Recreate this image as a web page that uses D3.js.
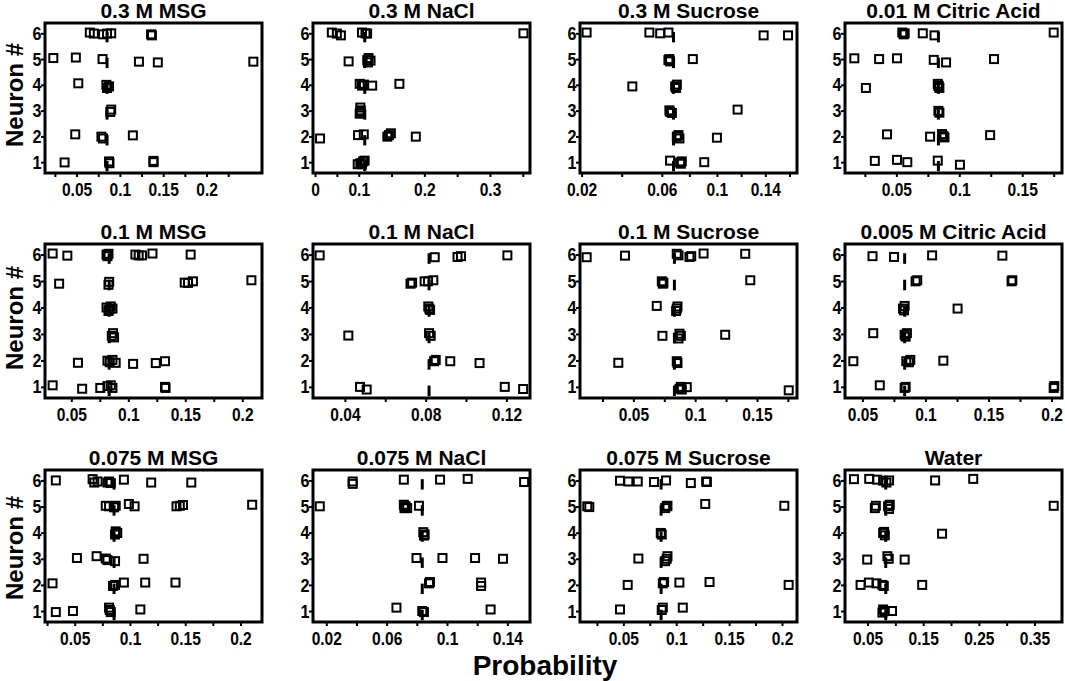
<!DOCTYPE html>
<html>
<head>
<meta charset="utf-8">
<script src="https://cdn.jsdelivr.net/npm/d3@7"></script>
<style>
  body { margin: 0; background: #fff; }
  text { font-family: "Liberation Sans", Arial, sans-serif; font-weight: bold; fill: #000; }
</style>
</head>
<body>
<div id="chart"></div>
<script>
// each point is [neuron (as drawn, with its small vertical offset), probability]
const msg03 = [[6.03,0.0653],[5.99,0.070],[5.96,0.0806],[5.99,0.0852],[6.0,0.090],[5.96,0.136],[5.92,0.137],
  [5.04,0.0232],[5.06,0.0492],[5.0,0.080],[4.9,0.122],[4.87,0.1438],[4.9,0.254],
  [4.06,0.052],[4.0,0.0844],[3.94,0.0875],[3.88,0.0852],
  [3.04,0.090],[2.95,0.089],
  [2.08,0.0485],[1.99,0.0787],[1.92,0.0806],[2.04,0.115],
  [0.99,0.0362],[1.03,0.0875],[0.96,0.088],[1.05,0.1388],[1.0,0.1388]];
const nacl03 = [[6.03,0.0385],[5.99,0.050],[5.92,0.0592],[6.03,0.105],[6.0,0.1103],[5.99,0.1128],[6.0,0.351],
  [4.91,0.0769],[4.96,0.113],[5.04,0.115],[4.94,0.118],[4.87,0.114],
  [4.04,0.1015],[3.97,0.105],[4.01,0.108],[3.97,0.1205],[4.04,0.162],
  [3.12,0.1025],[3.01,0.103],[2.88,0.1015],[2.95,0.1025],
  [1.92,0.0115],[2.05,0.0985],[2.08,0.1077],[1.99,0.1436],[2.05,0.146],[2.12,0.149],[1.99,0.187],
  [0.92,0.0977],[0.96,0.1025],[1.03,0.1067],[1.06,0.109],[0.92,0.105]];
const suc03 = [[6.03,0.0225],[6.03,0.0538],[6.0,0.0592],[6.03,0.0648],[5.92,0.1386],[5.92,0.1588],
  [4.96,0.0648],[4.91,0.066],[5.0,0.0655],[5.0,0.0825],
  [3.94,0.0453],[3.94,0.0697],[4.01,0.0709],[3.88,0.0704],
  [2.95,0.066],[3.01,0.0655],[2.91,0.0673],[3.04,0.1171],
  [1.99,0.0709],[2.05,0.0721],[1.92,0.0728],[1.95,0.1],
  [1.06,0.066],[0.99,0.0733],[1.03,0.0745],[0.94,0.0738],[1.0,0.0908]];
const cit001 = [[6.03,0.0547],[5.96,0.0558],[6.0,0.0566],[6.0,0.071],[5.92,0.0803],[6.03,0.175],
  [5.03,0.0166],[5.0,0.0363],[5.03,0.0505],[4.97,0.0797],[4.87,0.0895],[5.0,0.1276],
  [3.88,0.0258],[4.04,0.0829],[3.94,0.0837],[3.88,0.0842],[3.97,0.0834],
  [2.99,0.0834],[2.92,0.0842],
  [2.08,0.0426],[1.99,0.0768],[2.01,0.0874],[1.96,0.0882],[2.09,0.0863],[2.05,0.1245],
  [1.05,0.0329],[1.09,0.0505],[1.0,0.0587],[1.06,0.0829],[0.9,0.1005]];
const msg01 = [[6.04,0.0336],[5.96,0.0465],[6.0,0.0809],[5.94,0.0817],[6.03,0.0826],[6.0,0.1062],[5.97,0.1091],[5.97,0.112],[6.04,0.1212],[6.0,0.1547],
  [4.9,0.0393],[4.97,0.0832],[4.86,0.0826],[4.94,0.1495],[4.93,0.1524],[4.99,0.1567],[5.03,0.208],
  [4.0,0.0809],[3.93,0.0832],[4.04,0.0846],[3.87,0.0826],[3.96,0.0861],
  [2.93,0.0855],[3.03,0.0866],[2.87,0.0875],
  [1.91,0.0558],[1.99,0.0817],[1.93,0.0837],[2.02,0.0861],[1.91,0.0889],[1.87,0.1042],[1.9,0.1241],[1.97,0.1322],
  [1.06,0.0336],[0.93,0.0595],[0.96,0.0754],[1.03,0.0817],[1.06,0.0846],[0.96,0.0861],[1.0,0.1322],[0.96,0.1327]];
const nacl01 = [[5.97,0.0275],[5.9,0.0845],[5.91,0.0958],[5.94,0.0975],[5.97,0.1205],
  [4.9,0.0725],[4.94,0.0733],[4.99,0.0795],[4.99,0.0812],[5.03,0.0838],
  [4.04,0.0813],[3.96,0.0818],[3.91,0.0822],
  [2.94,0.0417],[3.03,0.0817],[2.93,0.0825],
  [1.97,0.0842],[2.02,0.085],[1.97,0.0922],[1.9,0.1067],
  [1.0,0.0475],[0.9,0.0508],[1.0,0.1192],[0.92,0.1283]];
const suc01 = [[5.9,0.0122],[5.96,0.0432],[6.03,0.0851],[5.97,0.0865],[5.91,0.0954],[5.94,0.0968],[6.04,0.1068],[6.03,0.1405],
  [4.99,0.073],[4.9,0.0738],[4.94,0.0743],[5.03,0.1446],
  [4.06,0.0689],[3.96,0.0851],[4.04,0.0857],[3.87,0.0846],
  [2.93,0.0735],[3.01,0.0873],[2.93,0.0884],[2.83,0.0865],[2.97,0.1243],
  [1.91,0.0378],[1.97,0.0851],[1.9,0.0857],
  [0.93,0.0873],[1.0,0.0884],[0.9,0.0892],[0.99,0.0932],[0.87,0.1757]];
const cit0005 = [[5.94,0.058],[5.91,0.0751],[5.97,0.1053],[5.96,0.161],
  [4.99,0.0922],[5.03,0.0935],[4.99,0.1683],[5.03,0.1689],
  [3.96,0.0822],[4.06,0.0835],[3.89,0.083],[3.96,0.1255],
  [3.03,0.0586],[2.97,0.0835],[3.03,0.0853],[2.9,0.0843],
  [1.97,0.0428],[1.97,0.0848],[1.93,0.0869],[2.02,0.088],[1.99,0.1142],
  [1.06,0.0638],[0.96,0.0835],[1.0,0.0843],[0.96,0.2017],[1.03,0.2022]];
const msg0075 = [[6.0,0.0329],[6.05,0.0662],[5.92,0.0677],[5.96,0.0707],[5.92,0.0796],[5.96,0.0811],[5.9,0.0826],[6.03,0.0945],[5.92,0.1192],[5.92,0.1555],
  [5.03,0.0781],[5.01,0.0811],[4.97,0.0856],[5.03,0.0871],[5.1,0.099],[5.01,0.1042],[5.01,0.1421],[5.03,0.1451],[5.06,0.148],[5.07,0.2106],
  [4.05,0.0871],[3.99,0.0885],[3.93,0.0865],
  [3.03,0.052],[3.1,0.0698],[3.01,0.0781],[2.95,0.0796],[2.91,0.0865],[3.0,0.1123],
  [2.06,0.0299],[1.96,0.0847],[2.0,0.0865],[2.09,0.0945],[2.09,0.1138],[2.09,0.1412],
  [0.96,0.0329],[1.0,0.0484],[1.13,0.0811],[1.04,0.0817],[0.96,0.0826],[1.06,0.1094]];
const nacl0075 = [[5.96,0.0375],[5.87,0.0375],[6.03,0.0714],[6.03,0.0954],[6.06,0.1137],[5.94,0.1511],
  [5.01,0.0157],[5.07,0.0714],[5.01,0.0725],[4.94,0.0736],[4.94,0.0718],[5.03,0.0814],
  [4.02,0.0843],[3.93,0.0852],[3.89,0.0847],
  [3.03,0.0798],[3.03,0.097],[3.03,0.1186],[3.0,0.1371],
  [2.06,0.0881],[2.11,0.0887],[2.09,0.1226],[1.96,0.1226],
  [1.13,0.0665],[1.0,0.0836],[0.96,0.0847],[1.06,0.1289]];
const suc0075 = [[5.99,0.0468],[5.96,0.0547],[5.96,0.0636],[5.94,0.079],[6.0,0.0904],[5.9,0.1138],[5.96,0.1283],[5.94,0.129],
  [5.01,0.0159],[4.98,0.0178],[4.94,0.0895],[5.01,0.091],[5.03,0.0917],[5.1,0.1274],[5.03,0.2022],
  [3.99,0.0854],[3.93,0.0863],
  [3.01,0.0642],[2.91,0.0895],[3.0,0.091],[3.1,0.0917],
  [2.0,0.0541],[2.06,0.0873],[2.11,0.0885],[2.09,0.103],[2.11,0.1315],[2.0,0.2063],
  [1.06,0.0468],[1.04,0.0863],[1.13,0.0873],[1.13,0.1062]];
const water = [[6.05,0.0256],[6.06,0.053],[6.03,0.0673],[5.99,0.078],[5.92,0.0839],[6.0,0.0887],[6.0,0.1714],[6.06,0.2399],
  [4.94,0.0631],[5.03,0.0649],[5.01,0.0869],[5.07,0.0899],[4.91,0.0887],[5.03,0.3845],
  [3.99,0.078],[3.9,0.081],[4.03,0.0798],[3.96,0.1839],
  [2.97,0.0494],[3.1,0.0857],[3.0,0.0881],[2.97,0.1167],
  [2.0,0.0375],[2.09,0.0524],[2.06,0.0661],[2.0,0.0768],[1.96,0.0792],[2.0,0.1482],
  [1.06,0.078],[1.0,0.081],[0.94,0.0768],[1.0,0.094]];

const panels = [msg03, nacl03, suc03, cit001, msg01, nacl01, suc01, cit0005, msg0075, nacl0075, suc0075, water];
const titles = ["0.3 M MSG", "0.3 M NaCl", "0.3 M Sucrose", "0.01 M Citric Acid",
  "0.1 M MSG", "0.1 M NaCl", "0.1 M Sucrose", "0.005 M Citric Acid",
  "0.075 M MSG", "0.075 M NaCl", "0.075 M Sucrose", "Water"];
// marker line drawn at each neuron (chance level)
const chance = [0.0852, 0.1092, 0.0685, 0.0834, 0.0832, 0.0817, 0.0832, 0.0835, 0.0856, 0.0836, 0.0857, 0.0827];
const tickSets = [
  [0.05, 0.1, 0.15, 0.2], [0, 0.1, 0.2, 0.3], [0.02, 0.06, 0.1, 0.14], [0.05, 0.1, 0.15],
  [0.05, 0.1, 0.15, 0.2], [0.04, 0.08, 0.12], [0.05, 0.1, 0.15], [0.05, 0.1, 0.15, 0.2],
  [0.05, 0.1, 0.15, 0.2], [0.02, 0.06, 0.1, 0.14], [0.05, 0.1, 0.15, 0.2], [0.05, 0.15, 0.25, 0.35]];
const neurons = [1, 2, 3, 4, 5, 6];

// x axis stops of each panel (the printed axes are not all evenly spaced)
const xStops = [
  [0.0136, 0.264], [-0.0046, 0.1, 0.361], [0.0192, 0.06, 0.1, 0.1662], [0.0092, 0.1816],
  [0.0269, 0.2173], [0.0242, 0.1317], [0.0068, 0.1824], [0.0362, 0.2083],
  [0.0231, 0.2195], [0.0112, 0.155], [0.009, 0.2142], [0.0095, 0.3994]];
const xStopAt = [
  [0, 1], [0, 0.2107, 1], [0, 0.377, 0.631, 1], [0, 1],
  [0, 1], [0, 1], [0, 1], [0, 1],
  [0, 1], [0, 1], [0, 1], [0, 1]];

const width = 1065;
const height = 681;
const colLeft = [45, 313, 580, 845];
const rowTop = [23, 244, 470];
const rowH = [150, 154, 152];
const panelW = 217;

const svg = d3.select("#chart")
  .append("svg")
  .attr("width", width)
  .attr("height", height);

panels.forEach((pts, i) => {
  const r = Math.floor(i / 4);
  const c = i % 4;
  const w = panelW;
  const h = rowH[r];

  const g = svg.append("g")
    .attr("transform", `translate(${colLeft[c]},${rowTop[r]})`);

  const x = d3.scaleLinear()
    .domain(xStops[i])
    .range(xStopAt[i].map(f => f * w));
  const y = d3.scaleLinear()
    .domain([0.58, 6.4])
    .range([h, 0]);

  // minor ticks half way between the labelled ones
  const t = tickSets[i];
  const step = t[1] - t[0];
  const minor = d3.range(t[0] - step / 2, xStops[i][xStops[i].length - 1], step)
    .filter(v => v > xStops[i][0]);

  g.append("g")
    .attr("transform", `translate(0,${h})`)
    .call(d3.axisBottom(x).tickValues(minor).tickSize(4).tickSizeOuter(0).tickFormat(""))
    .call(a => a.select(".domain").remove())
    .call(a => a.selectAll("line").attr("stroke-width", 2));

  const xa = g.append("g")
    .attr("transform", `translate(0,${h})`)
    .call(d3.axisBottom(x).tickValues(t).tickSize(4).tickSizeOuter(0).tickPadding(5.5)
      .tickFormat(d => String(d)));
  xa.select(".domain").remove();
  xa.selectAll("line").attr("stroke-width", 2);
  xa.selectAll("text")
    .attr("font-size", "19px")
    .attr("transform", "scale(0.82,1)");

  const ya = g.append("g")
    .call(d3.axisLeft(y).tickValues(neurons).tickSize(4).tickSizeOuter(0).tickPadding(0)
      .tickFormat(d3.format("d")));
  ya.select(".domain").remove();
  ya.selectAll("line").attr("stroke-width", 2);
  ya.selectAll("text")
    .attr("font-size", "19px")
    .attr("transform", "scale(0.85,1)");

  // chance marks
  g.selectAll("line.chance")
    .data(neurons)
    .enter()
    .append("line")
    .attr("class", "chance")
    .attr("x1", x(chance[i]))
    .attr("x2", x(chance[i]))
    .attr("y1", d => y(d + 0.05))
    .attr("y2", d => y(d - 0.35))
    .attr("stroke", "#000")
    .attr("stroke-width", 3);

  g.selectAll("rect.pt")
    .data(pts)
    .enter()
    .append("rect")
    .attr("class", "pt")
    .attr("x", d => x(d[1]) - 4)
    .attr("y", d => y(d[0]) - 4)
    .attr("width", 8)
    .attr("height", 8)
    .attr("fill", "none")
    .attr("stroke", "#000")
    .attr("stroke-width", 2);

  g.append("rect")
    .attr("width", w)
    .attr("height", h)
    .attr("fill", "none")
    .attr("stroke", "#000")
    .attr("stroke-width", 3);

  g.append("text")
    .attr("x", w / 2)
    .attr("y", -5)
    .attr("text-anchor", "middle")
    .attr("font-size", "21px")
    .text(titles[i]);
});

// shared axis titles
const rowMid = [95, 318, 548];
rowMid.forEach(cy => {
  svg.append("text")
    .attr("transform", `translate(23,${cy}) rotate(-90)`)
    .attr("text-anchor", "middle")
    .attr("font-size", "24px")
    .text("Neuron #");
});

svg.append("text")
  .attr("x", 545)
  .attr("y", 675)
  .attr("text-anchor", "middle")
  .attr("font-size", "28px")
  .text("Probability");
</script>
</body>
</html>
